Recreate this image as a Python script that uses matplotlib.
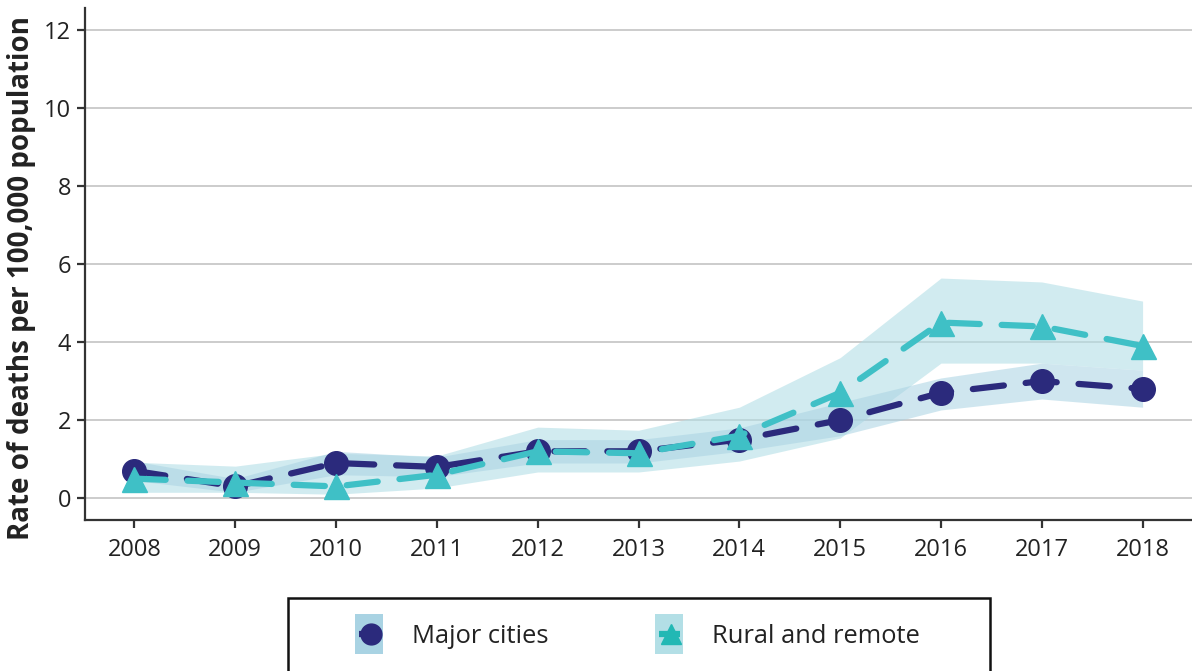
import matplotlib
matplotlib.use("Agg")
import matplotlib.pyplot as plt
from matplotlib.patches import Rectangle
from matplotlib.lines import Line2D
from matplotlib.legend_handler import HandlerBase

plt.rcParams['font.family'] = ['Open Sans', 'DejaVu Sans']

years = [2008, 2009, 2010, 2011, 2012, 2013, 2014, 2015, 2016, 2017, 2018]
major = [0.7, 0.3, 0.9, 0.8, 1.2, 1.2, 1.5, 2.0, 2.7, 3.0, 2.8]
major_lo = [0.45, 0.15, 0.6, 0.55, 0.9, 0.9, 1.2, 1.6, 2.26, 2.54, 2.33]
major_hi = [0.95, 0.5, 1.2, 1.05, 1.5, 1.5, 1.8, 2.45, 3.08, 3.46, 3.28]
rural = [0.5, 0.4, 0.3, 0.6, 1.2, 1.15, 1.6, 2.7, 4.5, 4.4, 3.9]
rural_lo = [0.15, 0.15, 0.1, 0.26, 0.67, 0.67, 0.95, 1.54, 3.46, 3.46, 3.28]
rural_hi = [0.92, 0.82, 1.15, 1.08, 1.82, 1.74, 2.33, 3.6, 5.64, 5.54, 5.05]
yticks = [0, 2, 4, 6, 8, 10, 12]
series_names = ['Major cities', 'Rural and remote']

navy = '#2b2a7c'
teal = '#3fc0c6'
major_fill = '#a9d3e3'
rural_fill = '#b3dfe6'


class BandLineHandler(HandlerBase):
    def __init__(self, fill, color, marker, full_line):
        super().__init__()
        self.fill, self.color, self.marker, self.full_line = fill, color, marker, full_line

    def create_artists(self, legend, orig_handle, xdescent, ydescent, width, height,
                       fontsize, trans):
        x0 = -xdescent
        rect = Rectangle((x0, -ydescent - 3), width, height + 6, facecolor=self.fill,
                         edgecolor='none', transform=trans)
        cy = height / 2 - ydescent
        xm = x0 + width * 0.58
        x1 = x0 + width - 2 if self.full_line else xm
        line = Line2D([x0 + 3, x1], [cy, cy], color=self.color, lw=4.5,
                      solid_capstyle='butt', transform=trans)
        mk = Line2D([xm], [cy], color=self.color, marker=self.marker,
                    markersize=15, lw=0, transform=trans)
        return [rect, line, mk]


fig = plt.figure(figsize=(11.92, 6.71), dpi=100)
ax = fig.add_axes([85/1192, 151/671, 1 - 85/1192, (663-151)/671])

ax.fill_between(years, rural_lo, rural_hi, color=rural_fill, alpha=0.6, lw=0, zorder=1)
ax.fill_between(years, major_lo, major_hi, color=major_fill, alpha=0.55, lw=0, zorder=1)

ax.plot(years, major, color=navy, lw=4.5, linestyle=(0, (5, 3.5)), dash_capstyle='round',
        marker='o', markersize=17, zorder=3)
ax.plot(years, rural, color=teal, lw=4.5, linestyle=(0, (5, 3.5)), dash_capstyle='round',
        marker='^', markersize=18, zorder=4)

ax.set_xlim(2007.51, 2018.49)
ax.set_ylim(-0.56, 12.56)
ax.set_xticks(years)
ax.set_xticklabels([str(y) for y in years])
ax.set_yticks(yticks)
ax.set_yticklabels([str(v) for v in yticks])
ax.grid(axis='y', color='#c8c8c8', lw=1.3)
ax.set_axisbelow(True)
for s in ['top', 'right']:
    ax.spines[s].set_visible(False)
for s in ['left', 'bottom']:
    ax.spines[s].set_color('#333333')
    ax.spines[s].set_linewidth(1.6)
ax.tick_params(axis='both', colors='#333333', labelcolor='#222222', labelsize=17,
               width=1.6, length=6)
ax.tick_params(axis='x', pad=7)
ax.tick_params(axis='y', pad=4)
ax.set_ylabel('Rate of deaths per 100,000 population', fontsize=20, fontweight='bold',
              color='#222222')
ax.yaxis.set_label_coords(-(85 - 36) / 1107, (520 - 278) / 512)

# legend frame (extends past the bottom edge, as in the reference)
frame = Rectangle((288/1192, -0.05), (990-288)/1192, (1 - 598/671) + 0.05,
                  transform=fig.transFigure, facecolor='white', edgecolor='#111111',
                  lw=1.8, zorder=0)
fig.add_artist(frame)

fs = 18.4
em = fs * 100 / 72
h1 = Rectangle((0, 0), 1, 1)
h2 = Rectangle((0, 0), 1, 1)
leg = fig.legend([h1, h2], series_names,
                 handler_map={h1: BandLineHandler(major_fill, navy, 'o', False),
                              h2: BandLineHandler(rural_fill, '#22b8b4', '^', True)},
                 loc='upper left', bbox_to_anchor=(355/1192, 1 - 618/671),
                 ncol=2, frameon=False, fontsize=fs,
                 handlelength=28/em, handleheight=40/em, handletextpad=29/em,
                 columnspacing=106/em, borderpad=0, borderaxespad=0)
for t in leg.get_texts():
    t.set_fontweight('medium')
    t.set_color('#222222')

fig.savefig('out.png', dpi=100)
